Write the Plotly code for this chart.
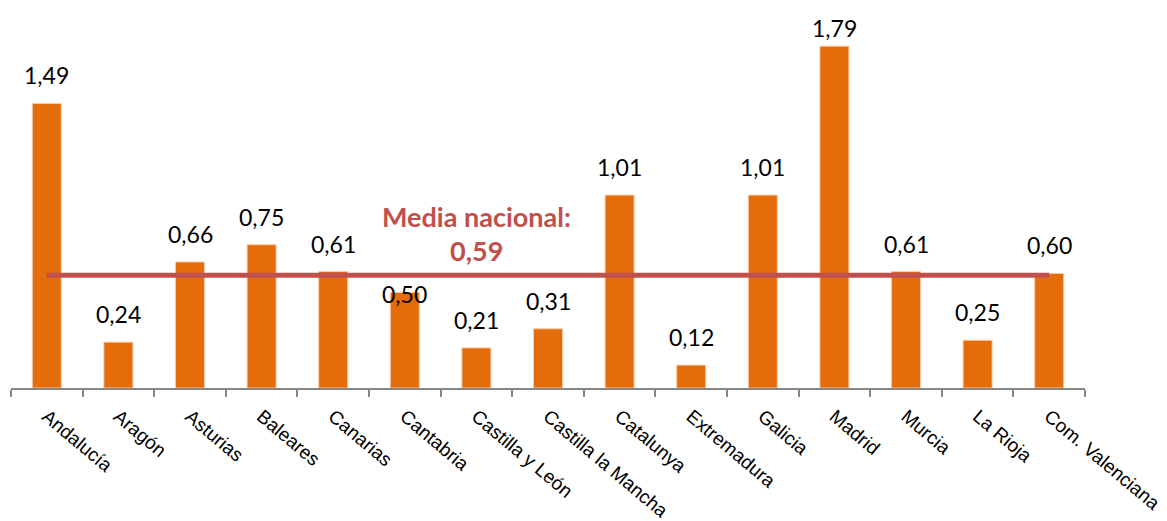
import plotly.graph_objects as go

categories = ["Andalucía", "Aragón", "Asturias", "Baleares", "Canarias", "Cantabria",
              "Castilla y León", "Castilla la Mancha", "Catalunya", "Extremadura",
              "Galicia", "Madrid", "Murcia", "La Rioja", "Com. Valenciana"]
values = [1.49, 0.24, 0.66, 0.75, 0.61, 0.50, 0.21, 0.31, 1.01, 0.12, 1.01, 1.79, 0.61, 0.25, 0.60]
media_nacional = 0.59
media_label = "Media nacional:"

BAR_COLOR = "#E46C0A"
LINE_COLOR = "#C0504D"

fig = go.Figure()
fig.add_trace(go.Bar(
    x=categories, y=values,
    marker=dict(color=BAR_COLOR, line=dict(color="#F8CBA6", width=1)),
    hoverinfo="x+y",
))
fig.add_trace(go.Scatter(
    x=categories, y=[media_nacional] * len(categories),
    mode="lines", line=dict(color=LINE_COLOR, width=5),
    hoverinfo="skip",
))

def fmt(v):
    return f"{v:.2f}".replace(".", ",")

# label offsets above the bar tops (pixels); a few labels sit differently in the reference
label_shift = {"Cantabria": -17, "Madrid": 2}

annotations = []
for c, v in zip(categories, values):
    annotations.append(dict(
        x=c, y=v, xref="x", yref="y", text=fmt(v), showarrow=False,
        yanchor="bottom", yshift=label_shift.get(c, 12),
        font=dict(family="Lato", size=23, color="#000000"),
    ))
annotations.append(dict(
    x="Castilla y León", y=0.90, xref="x", yref="y", text=f"<b>{media_label}</b>",
    showarrow=False, yanchor="middle",
    font=dict(family="Lato", size=27, color=LINE_COLOR),
))
annotations.append(dict(
    x="Castilla y León", y=0.722, xref="x", yref="y", text=f"<b>{fmt(media_nacional)}</b>",
    showarrow=False, yanchor="middle",
    font=dict(family="Lato", size=27, color=LINE_COLOR),
))

# page body has an 8px margin; size the figure so the plot area lands where the reference has it
fig.update_layout(
    width=1159, height=513,
    margin=dict(l=3, r=82, t=12, b=133),
    paper_bgcolor="white", plot_bgcolor="white",
    showlegend=False, bargap=0.595,
    annotations=annotations,
)
fig.update_xaxes(
    type="category", tickangle=40, showline=True, linecolor="#868686", linewidth=2,
    ticks="outside", tickson="boundaries", ticklen=7, tickcolor="#868686", tickwidth=2,
    tickfont=dict(family="Liberation Sans", size=19, color="#000000"),
    ticklabelstandoff=8, automargin=False,
    showgrid=False,
)
fig.update_yaxes(range=[0, 1.927], visible=False, showgrid=False, automargin=False)

fig.write_html("out.html")
